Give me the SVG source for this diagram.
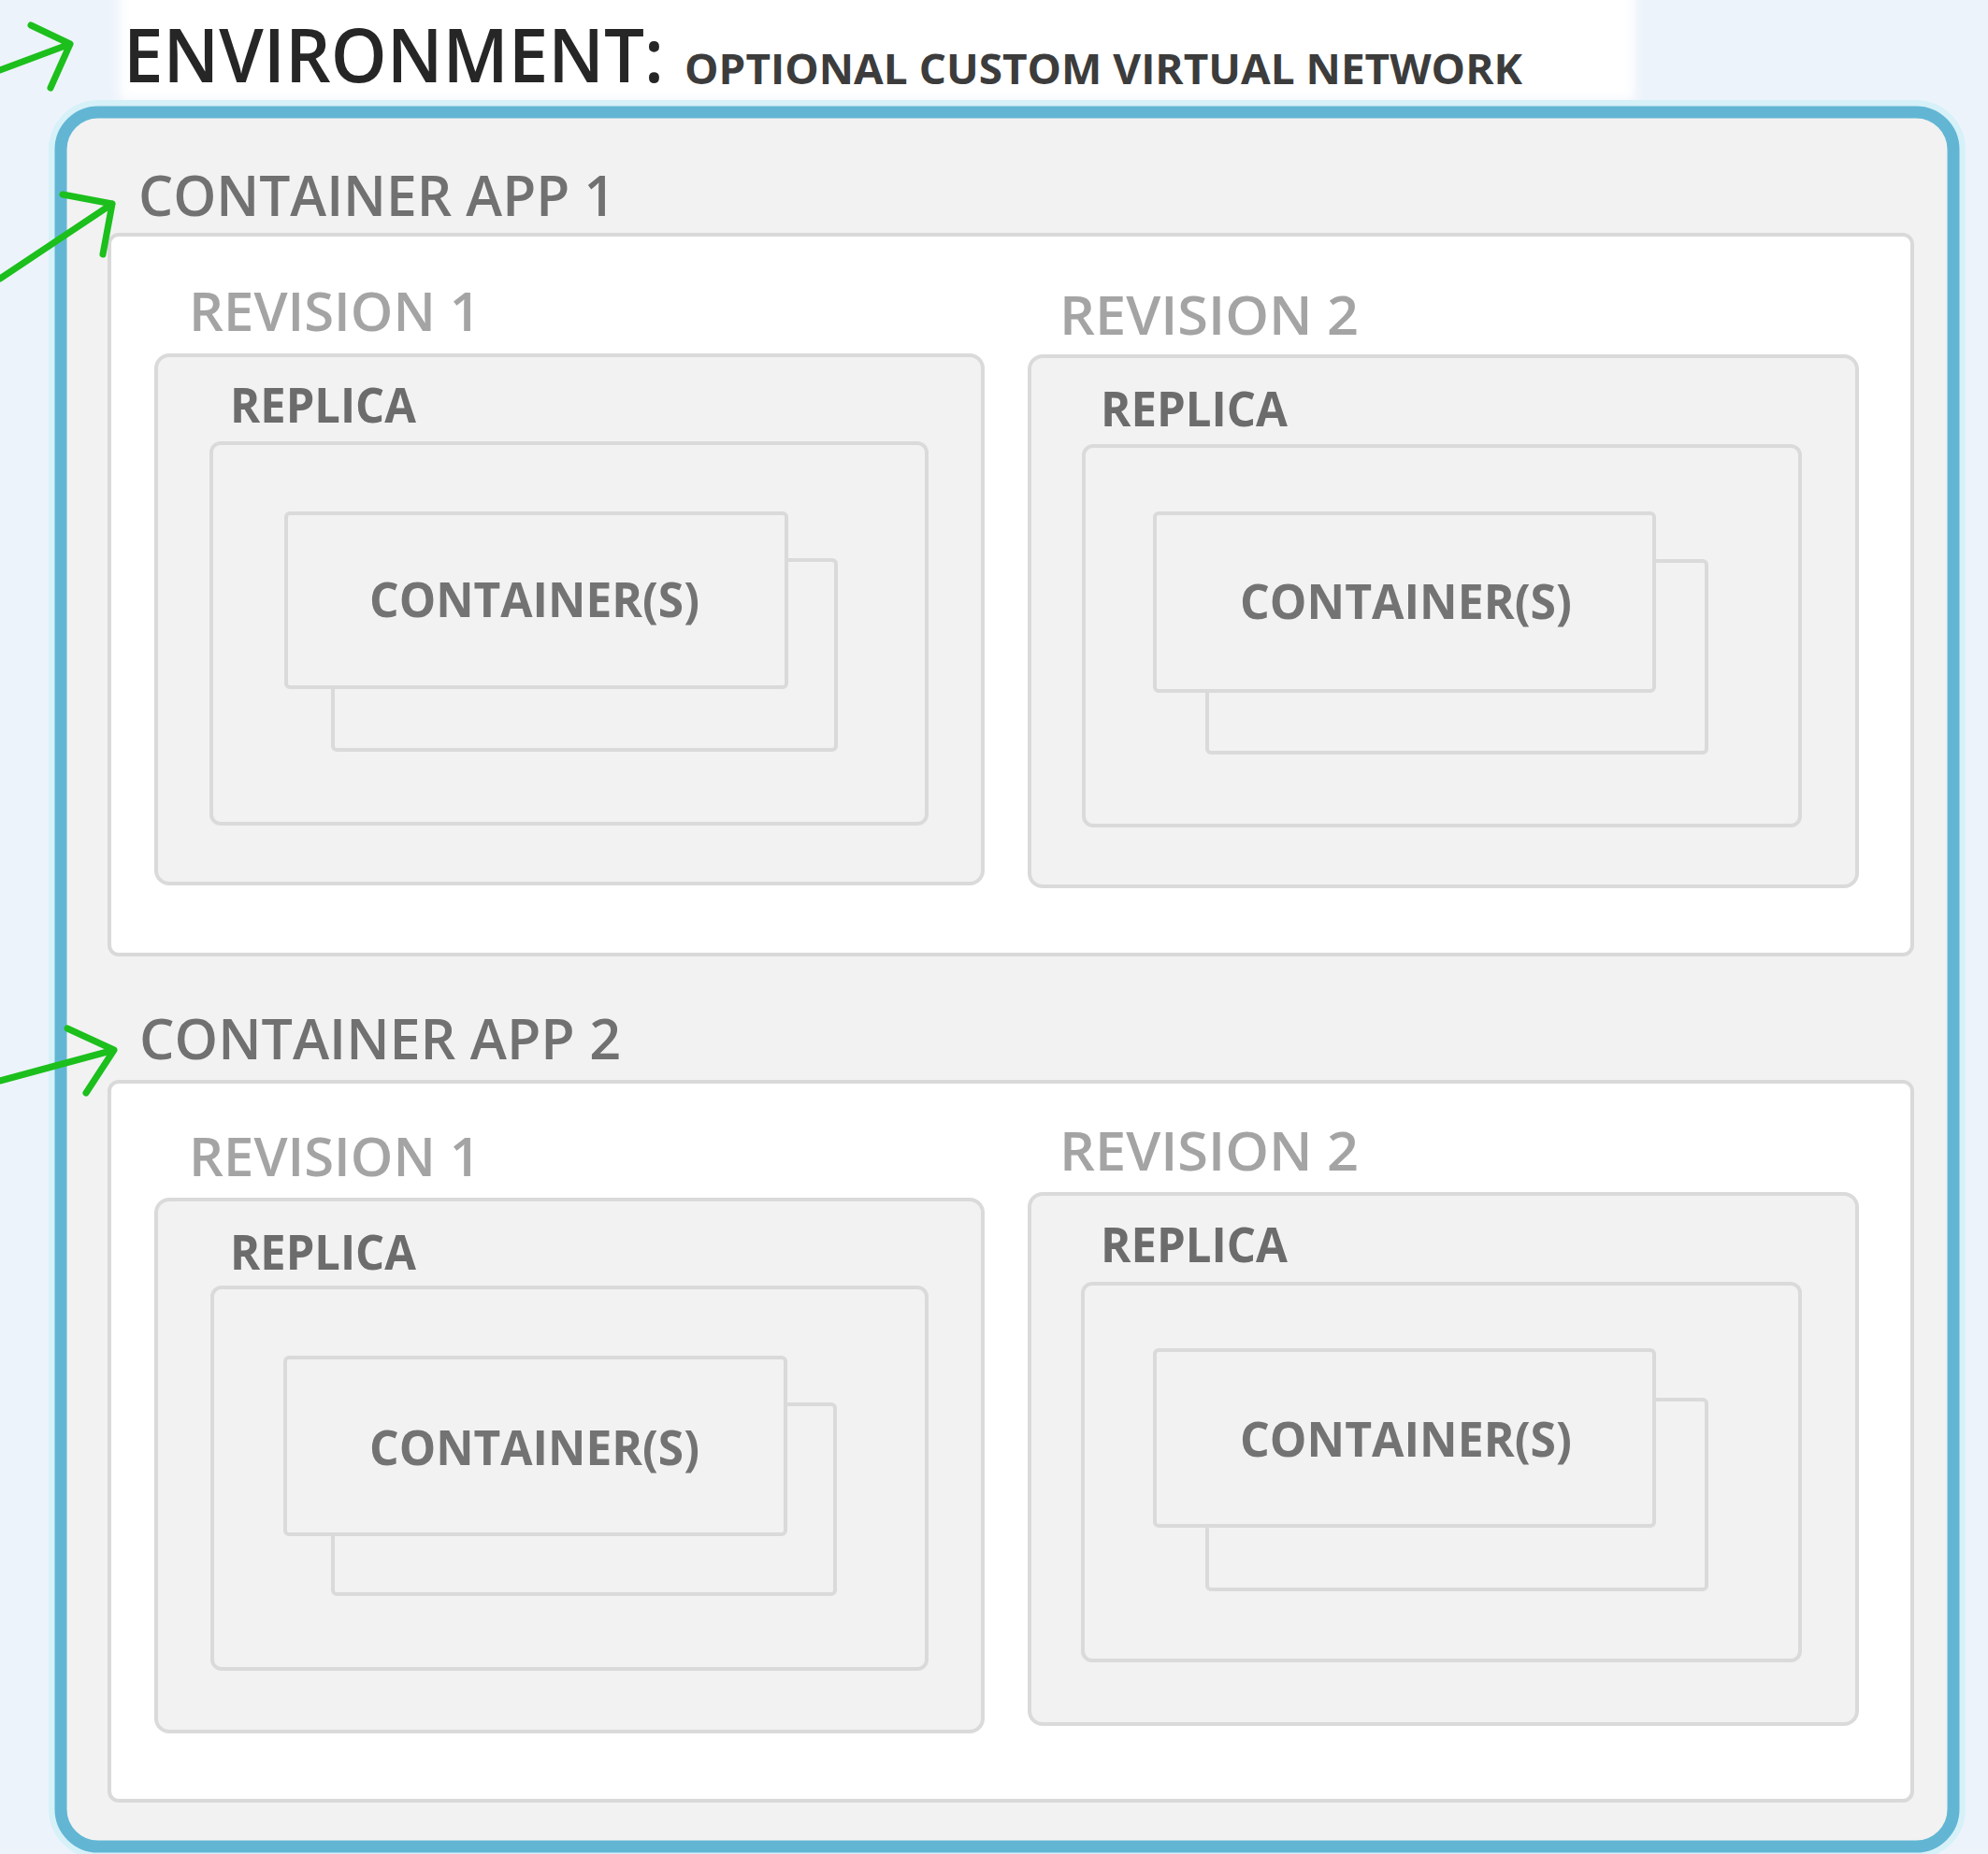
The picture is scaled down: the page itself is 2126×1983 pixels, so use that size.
<svg xmlns="http://www.w3.org/2000/svg" width="2126" height="1983" viewBox="0 0 2126 1983">
  <defs>
    <filter id="soft" x="-5%" y="-20%" width="110%" height="140%">
      <feGaussianBlur stdDeviation="6"/>
    </filter>
    <style>
      text { font-family: "Open Sans", "Noto Sans", "Liberation Sans", sans-serif; }
      .grey  { fill: #f2f2f2; stroke: #dadada; stroke-width: 4; }
      .white { fill: #ffffff; stroke: #d9d9d9; stroke-width: 4; }
      .title { font-size: 80px; font-weight: 600; fill: #262626; }
      .sub   { font-size: 45px; font-weight: 700; fill: #3c3c3c; }
      .app   { font-size: 60px; font-weight: 600; fill: #717171; }
      .rev   { font-size: 58px; font-weight: 600; fill: #a4a4a4; }
      .rep   { font-size: 52px; font-weight: 700; fill: #6c6c6c; }
      .ctr   { font-size: 52px; font-weight: 700; fill: #737373; }
      .arrow { fill: none; stroke: #1cbf1c; stroke-width: 7; stroke-linecap: round; stroke-linejoin: round; }
    </style>
  </defs>

  <!-- page background -->
  <rect x="0" y="0" width="2126" height="1983" fill="#edf3fb"/>
  <rect x="128" y="-20" width="1620" height="128" fill="#ffffff" filter="url(#soft)"/>

  <!-- environment frame -->
  <g id="environment">
    <rect x="65" y="120" width="2024" height="1855" rx="40" fill="none" stroke="#d7f1f9" stroke-width="26"/>
    <rect x="65" y="120" width="2024" height="1855" rx="40" fill="#f2f2f2" stroke="#62b6d4" stroke-width="13"/>
    <text class="title" x="132" y="88" textLength="578" lengthAdjust="spacingAndGlyphs">ENVIRONMENT:</text>
    <text class="sub" x="732" y="90" textLength="896" lengthAdjust="spacingAndGlyphs">OPTIONAL CUSTOM VIRTUAL NETWORK</text>
  </g>

  <!-- container app 1 -->
  <g id="app1">
    <text class="app" x="148" y="231" textLength="510" lengthAdjust="spacingAndGlyphs">CONTAINER APP 1</text>
    <rect class="white" x="117" y="251" width="1928" height="770" rx="10"/>
  </g>
  <g id="app1-rev1">
    <text class="rev" x="202" y="354" textLength="312" lengthAdjust="spacingAndGlyphs">REVISION 1</text>
    <rect class="grey" x="167" y="380" width="884" height="565" rx="14"/>
    <text class="rep" x="246" y="452" textLength="199" lengthAdjust="spacingAndGlyphs">REPLICA</text>
    <rect class="grey" x="226" y="474" width="765" height="407" rx="10"/>
    <rect class="grey" x="356" y="599" width="538" height="203" rx="4"/>
    <rect class="grey" x="306" y="549" width="535" height="186" rx="4"/>
    <text class="ctr" x="395" y="660" textLength="353" lengthAdjust="spacingAndGlyphs">CONTAINER(S)</text>
  </g>
  <g id="app1-rev2">
    <text class="rev" x="1133" y="358" textLength="320" lengthAdjust="spacingAndGlyphs">REVISION 2</text>
    <rect class="grey" x="1101" y="381" width="885" height="567" rx="14"/>
    <text class="rep" x="1177" y="456" textLength="200" lengthAdjust="spacingAndGlyphs">REPLICA</text>
    <rect class="grey" x="1159" y="477" width="766" height="406" rx="10"/>
    <rect class="grey" x="1291" y="600" width="534" height="205" rx="4"/>
    <rect class="grey" x="1235" y="549" width="534" height="190" rx="4"/>
    <text class="ctr" x="1326" y="662" textLength="355" lengthAdjust="spacingAndGlyphs">CONTAINER(S)</text>
  </g>

  <!-- container app 2 -->
  <g id="app2">
    <text class="app" x="149" y="1133" textLength="515" lengthAdjust="spacingAndGlyphs">CONTAINER APP 2</text>
    <rect class="white" x="117" y="1157" width="1928" height="769" rx="10"/>
  </g>
  <g id="app2-rev1">
    <text class="rev" x="202" y="1258" textLength="312" lengthAdjust="spacingAndGlyphs">REVISION 1</text>
    <rect class="grey" x="167" y="1283" width="884" height="569" rx="14"/>
    <text class="rep" x="246" y="1358" textLength="199" lengthAdjust="spacingAndGlyphs">REPLICA</text>
    <rect class="grey" x="227" y="1377" width="764" height="408" rx="10"/>
    <rect class="grey" x="356" y="1502" width="537" height="203" rx="4"/>
    <rect class="grey" x="305" y="1452" width="535" height="189" rx="4"/>
    <text class="ctr" x="395" y="1567" textLength="353" lengthAdjust="spacingAndGlyphs">CONTAINER(S)</text>
  </g>
  <g id="app2-rev2">
    <text class="rev" x="1133" y="1252" textLength="320" lengthAdjust="spacingAndGlyphs">REVISION 2</text>
    <rect class="grey" x="1101" y="1277" width="885" height="567" rx="14"/>
    <text class="rep" x="1177" y="1350" textLength="200" lengthAdjust="spacingAndGlyphs">REPLICA</text>
    <rect class="grey" x="1158" y="1373" width="767" height="403" rx="10"/>
    <rect class="grey" x="1291" y="1497" width="534" height="203" rx="4"/>
    <rect class="grey" x="1235" y="1444" width="534" height="188" rx="4"/>
    <text class="ctr" x="1326" y="1558" textLength="355" lengthAdjust="spacingAndGlyphs">CONTAINER(S)</text>
  </g>

  <!-- pointer arrows -->
  <g id="connectors">
    <path class="arrow" d="M0,75 L75,47 M33,27 L75,47 L54,94"/>
    <path class="arrow" d="M0,298 L120,218 M67,208 L120,218 L110,272"/>
    <path class="arrow" d="M0,1156 L122,1123 M72,1100 L122,1123 L92,1169"/>
  </g>
</svg>
